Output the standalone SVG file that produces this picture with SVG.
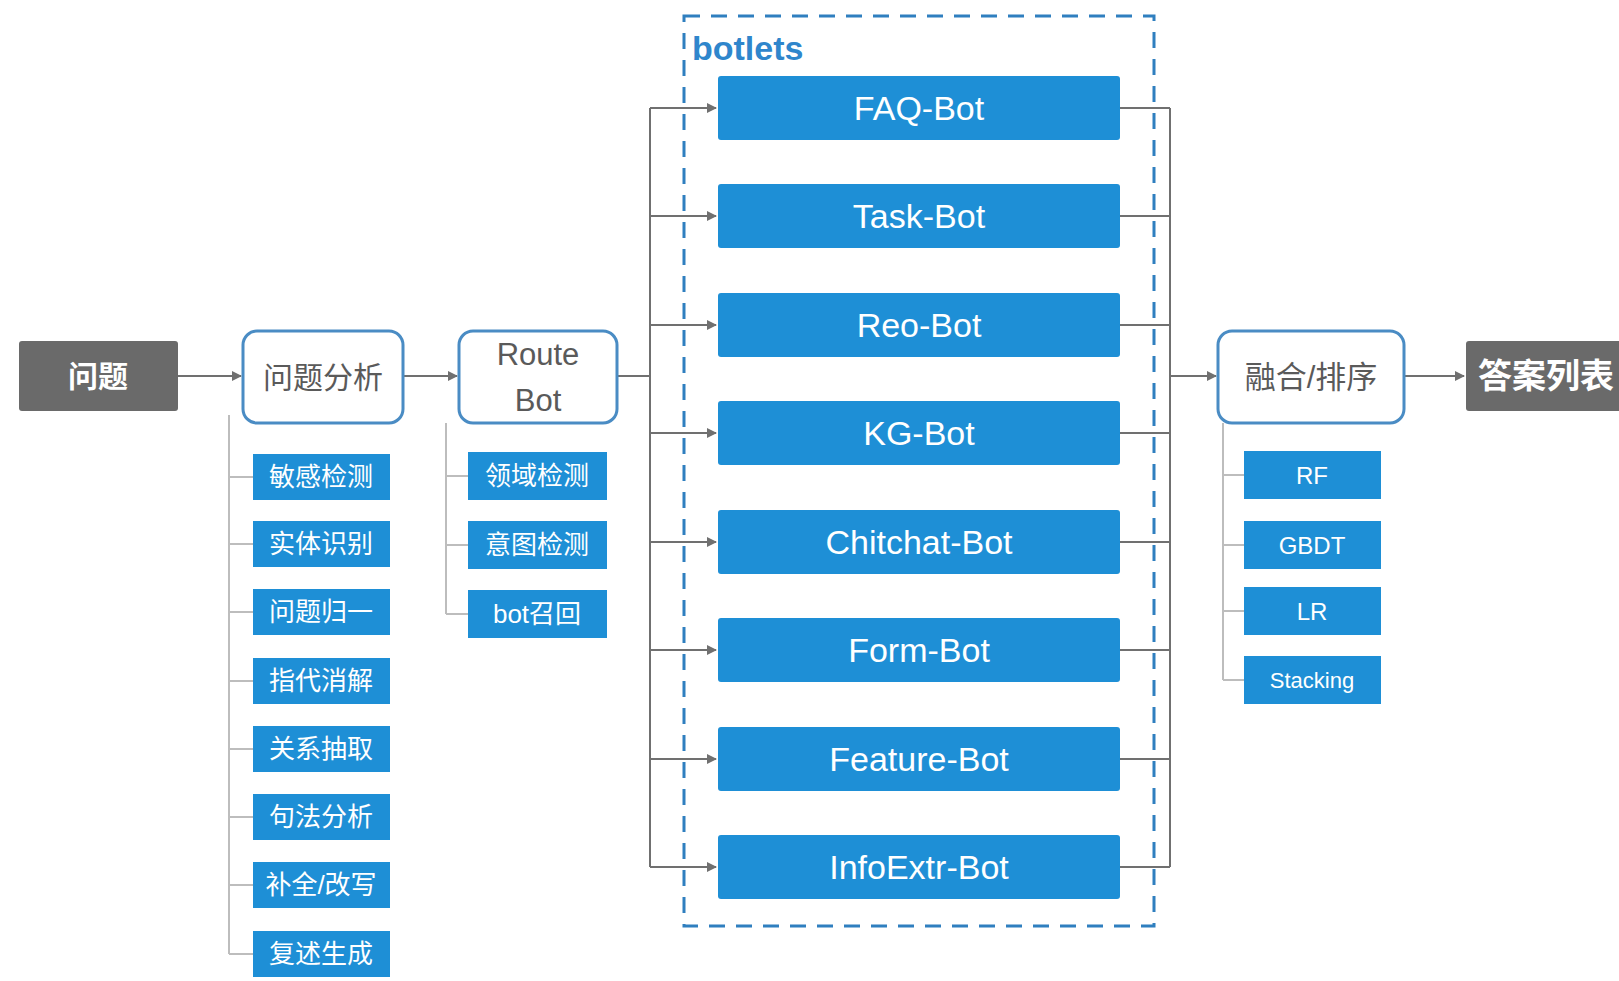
<svg xmlns="http://www.w3.org/2000/svg" width="1619" height="981" viewBox="0 0 1619 981">
<defs>
<marker id="ah" markerWidth="10" markerHeight="10" refX="9" refY="5" orient="auto" markerUnits="userSpaceOnUse">
<path d="M0,0 L10,5 L0,10 Z" fill="#707070"/>
</marker>
<style>
.dark{fill:#6a6a6a}
.outl{fill:#ffffff;stroke:#4a8cc4;stroke-width:3}
.bot{fill:#1e8fd6}
.sub{fill:#1e8fd6}
.wt{fill:#ffffff;font-family:"Liberation Sans","Noto Sans CJK SC",sans-serif;text-anchor:middle;dominant-baseline:central}
.gt{fill:#5a5a5a;font-family:"Liberation Sans","Noto Sans CJK SC",sans-serif;text-anchor:middle;dominant-baseline:central}
.ln{stroke:#707070;stroke-width:2;fill:none}
.tr{stroke:#bdbdbd;stroke-width:2;fill:none}
</style>
</defs>
<rect width="1619" height="981" fill="#ffffff"/>

<g id="connectors">
<line class="ln" x1="178" y1="376" x2="241" y2="376" marker-end="url(#ah)"/>
<line class="ln" x1="403" y1="376" x2="457" y2="376" marker-end="url(#ah)"/>
<polyline class="ln" points="617,376 650,376"/>
<line class="ln" x1="650" y1="108" x2="650" y2="867"/>
<line class="ln" x1="650" y1="108" x2="716" y2="108" marker-end="url(#ah)"/>
<line class="ln" x1="650" y1="216" x2="716" y2="216" marker-end="url(#ah)"/>
<line class="ln" x1="650" y1="325" x2="716" y2="325" marker-end="url(#ah)"/>
<line class="ln" x1="650" y1="433" x2="716" y2="433" marker-end="url(#ah)"/>
<line class="ln" x1="650" y1="542" x2="716" y2="542" marker-end="url(#ah)"/>
<line class="ln" x1="650" y1="650" x2="716" y2="650" marker-end="url(#ah)"/>
<line class="ln" x1="650" y1="759" x2="716" y2="759" marker-end="url(#ah)"/>
<line class="ln" x1="650" y1="867" x2="716" y2="867" marker-end="url(#ah)"/>
<line class="ln" x1="1120" y1="108" x2="1170" y2="108"/>
<line class="ln" x1="1120" y1="216" x2="1170" y2="216"/>
<line class="ln" x1="1120" y1="325" x2="1170" y2="325"/>
<line class="ln" x1="1120" y1="433" x2="1170" y2="433"/>
<line class="ln" x1="1120" y1="542" x2="1170" y2="542"/>
<line class="ln" x1="1120" y1="650" x2="1170" y2="650"/>
<line class="ln" x1="1120" y1="759" x2="1170" y2="759"/>
<line class="ln" x1="1120" y1="867" x2="1170" y2="867"/>
<line class="ln" x1="1170" y1="108" x2="1170" y2="867"/>
<line class="ln" x1="1170" y1="376" x2="1216" y2="376" marker-end="url(#ah)"/>
<line class="ln" x1="1404" y1="376" x2="1464" y2="376" marker-end="url(#ah)"/>
<!-- trees -->
<line class="tr" x1="229" y1="415" x2="229" y2="954"/>
<line class="tr" x1="229" y1="477" x2="253" y2="477"/>
<line class="tr" x1="229" y1="544" x2="253" y2="544"/>
<line class="tr" x1="229" y1="612" x2="253" y2="612"/>
<line class="tr" x1="229" y1="681" x2="253" y2="681"/>
<line class="tr" x1="229" y1="749" x2="253" y2="749"/>
<line class="tr" x1="229" y1="817" x2="253" y2="817"/>
<line class="tr" x1="229" y1="885" x2="253" y2="885"/>
<line class="tr" x1="229" y1="954" x2="253" y2="954"/>
<line class="tr" x1="446" y1="423" x2="446" y2="614"/>
<line class="tr" x1="446" y1="476" x2="468" y2="476"/>
<line class="tr" x1="446" y1="545" x2="468" y2="545"/>
<line class="tr" x1="446" y1="614" x2="468" y2="614"/>
<line class="tr" x1="1223" y1="423" x2="1223" y2="680"/>
<line class="tr" x1="1223" y1="475" x2="1244" y2="475"/>
<line class="tr" x1="1223" y1="545" x2="1244" y2="545"/>
<line class="tr" x1="1223" y1="611" x2="1244" y2="611"/>
<line class="tr" x1="1223" y1="680" x2="1244" y2="680"/>
</g>

<g id="botlets">
<rect x="684" y="16" width="470" height="910" fill="none" stroke="#2f7fbf" stroke-width="3" stroke-dasharray="16,11"/>
<text x="692" y="48" font-family="Liberation Sans, sans-serif" font-size="34" font-weight="bold" fill="#2f86cc" dominant-baseline="central">botlets</text>
</g>

<g id="n-wenti"><rect class="dark" x="19" y="341" width="159" height="70" rx="3"/><text class="wt" x="98" y="376" font-size="30" font-weight="bold">问题</text></g>
<g id="n-fenxi"><rect class="outl" x="243" y="331" width="160" height="92" rx="14"/><text class="gt" x="323" y="377" font-size="30">问题分析</text></g>
<g id="n-route"><rect class="outl" x="459" y="331" width="158" height="92" rx="14"/><text class="gt" x="538" y="354" font-size="31">Route</text><text class="gt" x="538" y="400" font-size="31">Bot</text></g>

<g id="b-faq"><rect class="bot" x="718" y="76" width="402" height="64" rx="3"/><text class="wt" x="919" y="108" font-size="34">FAQ-Bot</text></g>
<g id="b-task"><rect class="bot" x="718" y="184" width="402" height="64" rx="3"/><text class="wt" x="919" y="216" font-size="34">Task-Bot</text></g>
<g id="b-reo"><rect class="bot" x="718" y="293" width="402" height="64" rx="3"/><text class="wt" x="919" y="325" font-size="34">Reo-Bot</text></g>
<g id="b-kg"><rect class="bot" x="718" y="401" width="402" height="64" rx="3"/><text class="wt" x="919" y="433" font-size="34">KG-Bot</text></g>
<g id="b-chit"><rect class="bot" x="718" y="510" width="402" height="64" rx="3"/><text class="wt" x="919" y="542" font-size="34">Chitchat-Bot</text></g>
<g id="b-form"><rect class="bot" x="718" y="618" width="402" height="64" rx="3"/><text class="wt" x="919" y="650" font-size="34">Form-Bot</text></g>
<g id="b-feat"><rect class="bot" x="718" y="727" width="402" height="64" rx="3"/><text class="wt" x="919" y="759" font-size="34">Feature-Bot</text></g>
<g id="b-info"><rect class="bot" x="718" y="835" width="402" height="64" rx="3"/><text class="wt" x="919" y="867" font-size="34">InfoExtr-Bot</text></g>

<g id="n-rank"><rect class="outl" x="1218" y="331" width="186" height="92" rx="14"/><text class="gt" x="1311" y="377" font-size="31">融合/排序</text></g>
<g id="n-answer"><rect class="dark" x="1466" y="341" width="180" height="70" rx="3"/><text class="wt" x="1478" y="376" font-size="34" font-weight="bold" style="text-anchor:start">答案列表</text></g>

<g id="s1"><rect class="sub" x="253" y="454" width="137" height="46"/><text class="wt" x="321" y="477" font-size="26">敏感检测</text></g>
<g id="s2"><rect class="sub" x="253" y="521" width="137" height="46"/><text class="wt" x="321" y="544" font-size="26">实体识别</text></g>
<g id="s3"><rect class="sub" x="253" y="589" width="137" height="46"/><text class="wt" x="321" y="612" font-size="26">问题归一</text></g>
<g id="s4"><rect class="sub" x="253" y="658" width="137" height="46"/><text class="wt" x="321" y="681" font-size="26">指代消解</text></g>
<g id="s5"><rect class="sub" x="253" y="726" width="137" height="46"/><text class="wt" x="321" y="749" font-size="26">关系抽取</text></g>
<g id="s6"><rect class="sub" x="253" y="794" width="137" height="46"/><text class="wt" x="321" y="817" font-size="26">句法分析</text></g>
<g id="s7"><rect class="sub" x="253" y="862" width="137" height="46"/><text class="wt" x="321" y="885" font-size="26">补全/改写</text></g>
<g id="s8"><rect class="sub" x="253" y="931" width="137" height="46"/><text class="wt" x="321" y="954" font-size="26">复述生成</text></g>

<g id="r1"><rect class="sub" x="468" y="452" width="139" height="48"/><text class="wt" x="537" y="476" font-size="26">领域检测</text></g>
<g id="r2"><rect class="sub" x="468" y="521" width="139" height="48"/><text class="wt" x="537" y="545" font-size="26">意图检测</text></g>
<g id="r3"><rect class="sub" x="468" y="590" width="139" height="48"/><text class="wt" x="537" y="614" font-size="26">bot召回</text></g>

<g id="m1"><rect class="sub" x="1244" y="451" width="137" height="48"/><text class="wt" x="1312" y="475" font-size="24">RF</text></g>
<g id="m2"><rect class="sub" x="1244" y="521" width="137" height="48"/><text class="wt" x="1312" y="545" font-size="24">GBDT</text></g>
<g id="m3"><rect class="sub" x="1244" y="587" width="137" height="48"/><text class="wt" x="1312" y="611" font-size="24">LR</text></g>
<g id="m4"><rect class="sub" x="1244" y="656" width="137" height="48"/><text class="wt" x="1312" y="680" font-size="22">Stacking</text></g>
</svg>
